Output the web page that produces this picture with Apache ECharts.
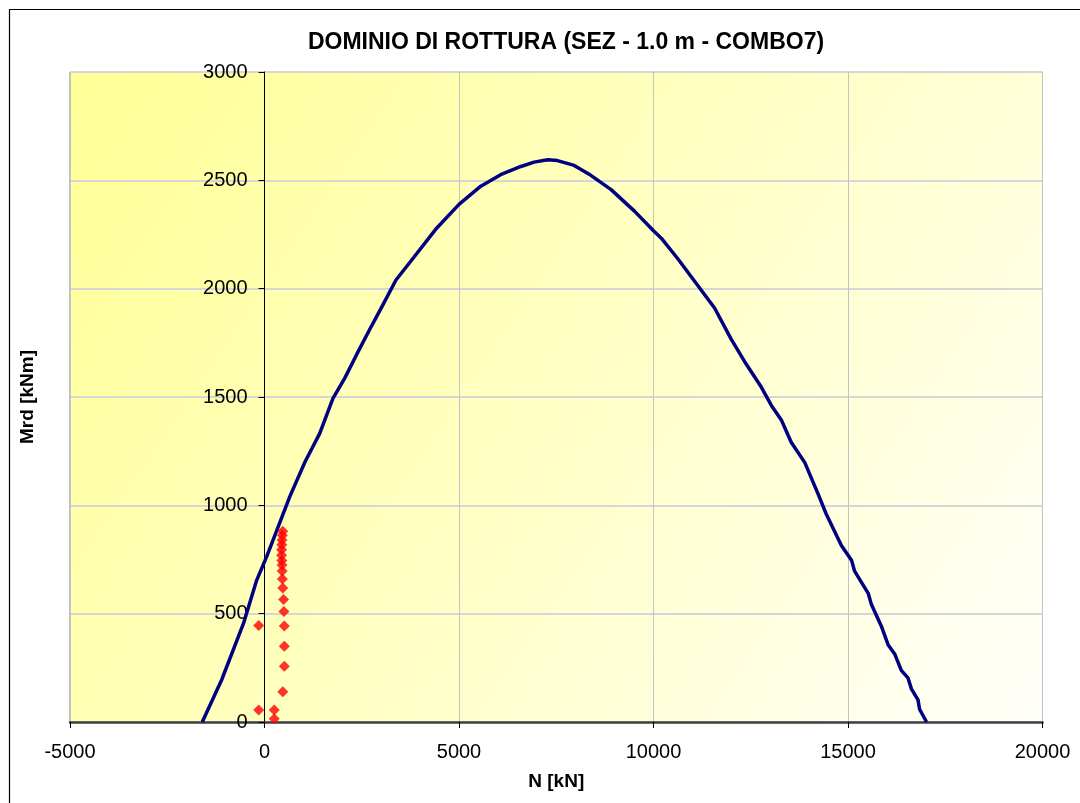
<!DOCTYPE html>
<html>
<head>
<meta charset="utf-8">
<script src="https://cdn.jsdelivr.net/npm/echarts@6/dist/echarts.min.js"></script>
<style>
html,body{margin:0;padding:0;background:#fff;}
#c{width:1080px;height:803px;}
</style>
</head>
<body>
<div id="c"></div>
<script>
// Domain curve (N [kN], Mrd [kNm])
var domainN = [-1600,-1100,-540,-200,56,650,1040,1420,1760,2060,2360,2740,3040,3380,3840,4400,5000,5560,6070,6590,6930,7280,7530,7960,8390,8910,9510,10000,10200,10630,10970,11570,12000,12340,12770,13030,13290,13540,13890,14230,14440,14830,15090,15170,15520,15600,15860,16030,16200,16370,16540,16630,16800,16840,17020];
var domainM = [0,195,455,655,763,1040,1200,1332,1494,1586,1693,1824,1924,2040,2145,2274,2389,2473,2526,2564,2584,2595,2591,2569,2523,2457,2358,2267,2233,2137,2055,1911,1766,1664,1546,1461,1393,1291,1197,1053,960,815,747,696,594,543,441,357,314,238,204,153,102,59,0];
// Load points
var loadN = [-150,-150,250,250,470,510,510,510,500,490,470,460,455,450,445,440,440,445,450,460,470];
var loadM = [445,55,55,15,140,257,350,443,510,565,618,660,697,725,745,770,795,818,840,862,880];
// Axis ticks
var xTicks = {min:-5000, max:20000, interval:5000};
var yTicks = {min:0, max:3000, interval:500};

var titleText = 'DOMINIO DI ROTTURA (SEZ - 1.0 m - COMBO7)';
var xName = 'N [kN]';
var yName = 'Mrd [kNm]';

var curve = domainN.map(function(n,i){return [n, domainM[i]];});
var pts = loadN.map(function(n,i){return [n, loadM[i]];});

var W = 1080, GL = 70, GR = 37.5;
var gridW = W - GL - GR;
// y axis crosses the x axis at N = 0
var yOffset = -gridW * (0 - xTicks.min) / (xTicks.max - xTicks.min);

var chart = echarts.init(document.getElementById('c'));
var FONT = '"Liberation Sans", Arial, sans-serif';
function plain(v){ return String(v); }
chart.setOption({
  animation:false,
  backgroundColor:'#ffffff',
  graphic:[{
    type:'rect', left:7, top:7, z:-10,
    shape:{x:0,y:0,width:1100,height:900},
    style:{fill:'none', stroke:'#000', lineWidth:1.2}
  }],
  title:{
    text:titleText, left:561, textAlign:'center', top:26,
    textStyle:{fontFamily:FONT, fontWeight:'bold', fontSize:23, color:'#000'}
  },
  grid:{
    left:GL, right:GR, top:72, bottom:81,
    show:true, borderColor:'#808080', borderWidth:1,
    backgroundColor:{type:'linear', x:0, y:0, x2:1, y2:1,
      colorStops:[{offset:0,color:'#FFFF96'},{offset:0.5,color:'#FFFFC4'},{offset:1,color:'#FFFFFA'}]}
  },
  xAxis:{
    type:'value', min:xTicks.min, max:xTicks.max, interval:xTicks.interval,
    name:xName, nameLocation:'middle', nameGap:50,
    nameTextStyle:{fontFamily:FONT, fontWeight:'bold', fontSize:19, color:'#000'},
    axisLine:{onZero:false, lineStyle:{color:'#404040', width:2.5}},
    axisTick:{show:true, inside:false, length:6, lineStyle:{color:'#000'}},
    axisLabel:{margin:20, fontFamily:FONT, fontSize:20, color:'#000', formatter:plain},
    splitLine:{show:true, lineStyle:{color:'#C4C4C4', width:1}}
  },
  yAxis:{
    type:'value', min:yTicks.min, max:yTicks.max, interval:yTicks.interval,
    offset:yOffset,
    name:yName, nameLocation:'middle', nameGap:227, nameRotate:90,
    nameTextStyle:{fontFamily:FONT, fontWeight:'bold', fontSize:19, color:'#000'},
    axisLine:{show:true, onZero:false, lineStyle:{color:'#000', width:1}},
    axisTick:{show:true, inside:false, length:6, lineStyle:{color:'#000'}},
    axisLabel:{margin:17, fontFamily:FONT, fontSize:20, color:'#000', formatter:plain},
    splitLine:{show:true, lineStyle:{color:'#D6D6D6', width:2}}
  },
  series:[{
    type:'line', data:curve, showSymbol:false, smooth:false,
    lineStyle:{color:'#000080', width:3.5}, z:3
  },{
    type:'scatter', data:pts, symbol:'diamond', symbolSize:11,
    itemStyle:{color:'#FF0000'}, z:4
  }]
});
</script>
</body>
</html>
